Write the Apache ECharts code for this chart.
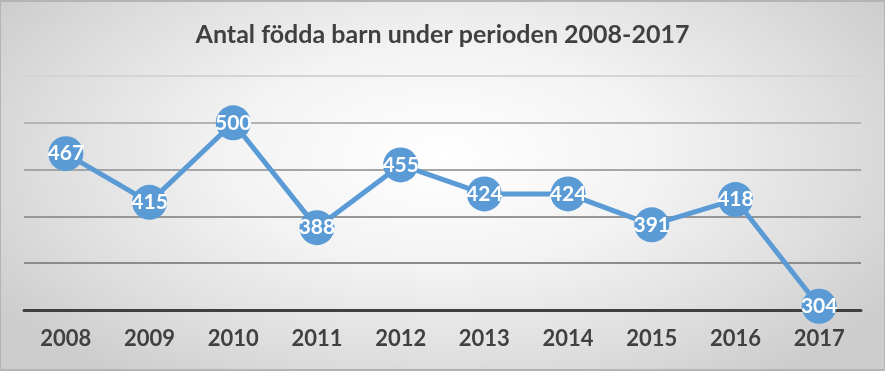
<!DOCTYPE html>
<html><head><meta charset="utf-8">
<script src="https://cdn.jsdelivr.net/npm/echarts@6/dist/echarts.min.js"></script>
<style>
html,body{margin:0;padding:0;background:#b4b4b4;}
#bg{position:absolute;left:1px;top:2px;width:883px;height:367px;
  background:radial-gradient(ellipse 60% 75% at 50% 42%, #ffffff 0%, #f3f3f3 40%, #dedede 75%, #cdcdcd 100%);}
#c{position:absolute;left:1px;top:2px;width:883px;height:367px;}
</style>
</head><body><div id="bg"></div><div id="c"></div>
<script>
const title = 'Antal födda barn under perioden 2008-2017';
const categories = ['2008','2009','2010','2011','2012','2013','2014','2015','2016','2017'];
const births = [467,415,500,388,455,424,424,391,418,304];
const yMin = 300, yMax = 550, yStep = 50;

const chart = echarts.init(document.getElementById('c'), null, {renderer:'canvas'});
chart.setOption({
  backgroundColor: 'transparent',
  title: {text: title, left:'center', top:15, textStyle:{fontFamily:'Lato', fontWeight:'bold', fontSize:25, color:'#404040'}},
  grid: {left:23, right:23, top:74, bottom:59},
  xAxis: {type:'category', data:categories, boundaryGap:true,
    axisLine:{lineStyle:{color:'#404040', width:3}}, axisTick:{show:false},
    axisLabel:{fontFamily:'Lato', fontWeight:'bold', fontSize:22, color:'#404040', margin:18}},
  yAxis: {type:'value', min:yMin, max:yMax, interval:yStep,
    axisLabel:{show:false}, axisLine:{show:false}, axisTick:{show:false},
    splitLine:{lineStyle:{color:['#8c8c8c','#8c8c8c','#979797','#a6a6a6','#b4b4b4','#d4d4d4'], width:2}}},
  series: [{type:'line', data:births, symbol:'circle', symbolSize:35,
    lineStyle:{color:'#5B9BD5', width:5}, itemStyle:{color:'#5B9BD5'},
    label:{show:true, position:'inside', color:'#ffffff', fontFamily:'Lato', fontWeight:'bold', fontSize:21}}]
});
</script></body></html>
